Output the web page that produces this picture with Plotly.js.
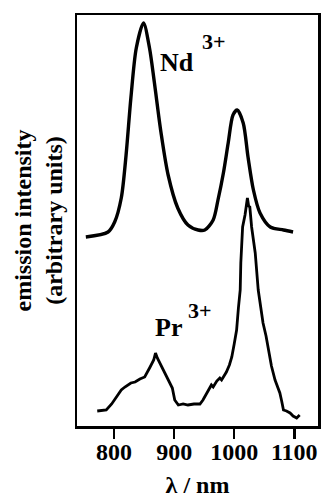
<!DOCTYPE html>
<html>
<head>
<meta charset="utf-8">
<script src="https://cdn.plot.ly/plotly-3.0.1.min.js"></script>
<style>html,body{margin:0;padding:0;background:#fff;}#chart{width:324px;height:498px;}</style>
</head>
<body>
<div id="chart"></div>
<script>
// Nd3+ emission (wavelength nm, intensity arbitrary)
var ndWavelength = [753, 790, 801, 812, 820, 828, 837, 849, 859, 867, 878, 890, 906, 923, 940, 951, 965, 973, 982, 990, 998, 1005, 1015, 1023, 1032, 1043, 1060, 1082, 1098];
var ndIntensity  = [189, 194, 204, 228, 271, 328, 378, 403, 378, 344, 294, 251, 218, 201, 196, 196, 206, 226, 253, 283, 311, 316, 303, 269, 236, 213, 199, 196, 194];

// Pr3+ emission
var prWavelength = [772, 787, 796, 804, 812, 818, 823, 828, 835, 843, 851, 856, 860, 866, 869, 872, 876, 882, 887, 892, 897, 901, 907, 915, 923, 933, 943, 948, 951, 957, 962, 965, 971, 976, 979, 983, 987, 992, 996, 1000, 1004, 1007, 1010, 1011, 1014, 1018, 1020, 1022, 1024, 1026, 1029, 1032, 1035, 1040, 1044, 1048, 1053, 1057, 1062, 1068, 1072, 1076, 1079, 1082, 1087, 1093, 1098, 1104, 1109];
var prIntensity  = [15, 16, 22, 29, 36, 39, 41, 43, 44, 47, 49, 54, 59, 66, 73, 68, 63, 55, 49, 44, 38, 26, 21, 22, 21, 22, 22, 26, 29, 36, 41, 39, 45, 48, 46, 50, 54, 61, 69, 82, 96, 118, 136, 163, 199, 211, 218, 228, 220, 219, 199, 185, 173, 136, 118, 103, 90, 76, 60, 46, 40, 33, 25, 16, 15, 13, 10, 8, 11];

var tickVals = [800, 900, 1000, 1100];
var tickText = ['800', '900', '1000', '1100'];

var serif = 'Liberation Serif, Times New Roman, serif';

var traces = [
  {x: ndWavelength, y: ndIntensity, mode: 'lines', line: {color: '#000', width: 3.4, shape: 'spline', smoothing: 0.8}, hoverinfo: 'none'},
  {x: prWavelength, y: prIntensity, mode: 'lines', line: {color: '#000', width: 2.8}, hoverinfo: 'none'}
];

var layout = {
  width: 324, height: 498,
  margin: {l: 77, r: 6, t: 15, b: 72},
  paper_bgcolor: '#fff', plot_bgcolor: '#fff',
  showlegend: false,
  xaxis: {
    range: [738.3, 1139.5],
    tickvals: tickVals, ticktext: tickText,
    ticks: 'outside', ticklen: 10, tickwidth: 2.5, tickcolor: '#000',
    ticklabelstandoff: -7,
    tickfont: {family: serif, size: 24, color: '#000', weight: 'bold'},
    showline: true, mirror: true, linewidth: 2.5, linecolor: '#000',
    showgrid: false, zeroline: false,
    title: {text: 'λ / nm', font: {family: serif, size: 24, color: '#000', weight: 'bold'}, standoff: 16}
  },
  yaxis: {
    range: [0, 411],
    showticklabels: false, ticks: '',
    showline: true, mirror: true, linewidth: 2.5, linecolor: '#000',
    showgrid: false, zeroline: false
  },
  annotations: [
    {xref: 'paper', yref: 'paper', x: 0, y: 0.5, xshift: -39, xanchor: 'center', yanchor: 'middle', textangle: -90,
     text: 'emission intensity<br>(arbitrary units)', showarrow: false,
     font: {family: serif, size: 24, color: '#000', weight: 'bold'}},
    {x: 905, y: 364, text: 'Nd', showarrow: false, xanchor: 'center', yanchor: 'middle',
     font: {family: serif, size: 26, color: '#000', weight: 'bold'}},
    {x: 966, y: 385, text: '3+', showarrow: false, xanchor: 'center', yanchor: 'middle',
     font: {family: serif, size: 22, color: '#000', weight: 'bold'}},
    {x: 891, y: 99, text: 'Pr', showarrow: false, xanchor: 'center', yanchor: 'middle',
     font: {family: serif, size: 26, color: '#000', weight: 'bold'}},
    {x: 943, y: 116, text: '3+', showarrow: false, xanchor: 'center', yanchor: 'middle',
     font: {family: serif, size: 22, color: '#000', weight: 'bold'}}
  ]
};

Plotly.newPlot('chart', traces, layout, {displayModeBar: false, staticPlot: true});
</script>
</body>
</html>
